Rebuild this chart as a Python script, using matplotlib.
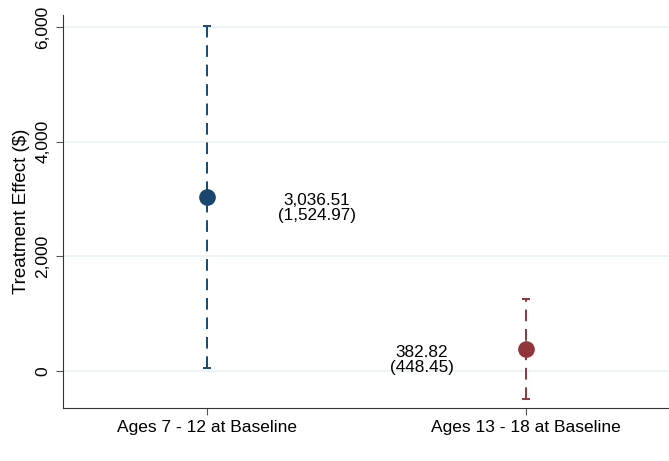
import numpy as np
import matplotlib.pyplot as plt

plt.rcParams['font.family'] = ['Liberation Sans', 'DejaVu Sans']

# Estimates and standard errors by baseline age group
groups = ['Ages 7 - 12 at Baseline', 'Ages 13 - 18 at Baseline']
effects = [3036.51, 382.82]
ses = [1524.97, 448.45]
colors = ['#1a476f', '#90353b']

x = np.arange(1, len(groups) + 1)
lo = [e - 1.96 * s for e, s in zip(effects, ses)]
hi = [e + 1.96 * s for e, s in zip(effects, ses)]

fig = plt.figure(figsize=(6.69, 4.61), dpi=100)
ax = fig.add_axes([0.094, 0.115, 0.906, 0.852])

for i in range(len(groups)):
    ax.vlines(x[i], lo[i], hi[i], color=colors[i], linestyle=(0, (6, 4)), lw=1.4)
    ax.hlines([lo[i], hi[i]], x[i] - 0.013, x[i] + 0.013, color=colors[i], lw=1.4)
    ax.plot(x[i], effects[i], 'o', color=colors[i], ms=11, zorder=3)

# coefficient labels
ax.text(1.345, 2840, '3,036.51\n(1,524.97)', ha='center', va='center',
        fontsize=12.3, linespacing=1.0)
ax.text(1.674, 190, '382.82\n(448.45)', ha='center', va='center',
        fontsize=12.3, linespacing=1.0)

ax.set_xlim(0.549, 2.448)
ax.set_ylim(-645, 6210)
ax.set_xticks(x)
ax.set_xticklabels(groups, fontsize=12.5)
ax.set_yticks([0, 2000, 4000, 6000])
ax.set_yticklabels(['0', '2,000', '4,000', '6,000'], rotation=90, va='center', fontsize=12.5)
ax.set_ylabel('Treatment Effect ($)', fontsize=13.5, labelpad=4)

ax.grid(axis='y', color='#eaf2f3', lw=1.2)
ax.set_axisbelow(True)
for s in ['top', 'right']:
    ax.spines[s].set_visible(False)
for s in ['left', 'bottom']:
    ax.spines[s].set_color('#333333')
ax.tick_params(length=5, color='#555555', pad=4)

fig.savefig('out.png', dpi=100)
